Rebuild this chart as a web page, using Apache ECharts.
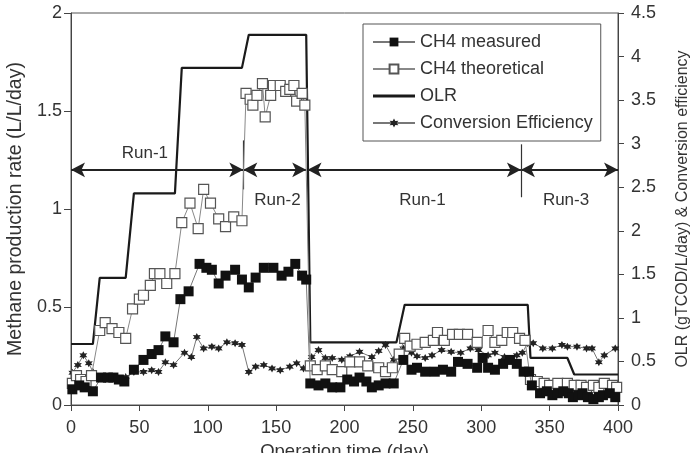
<!DOCTYPE html>
<html>
<head>
<meta charset="utf-8">
<script src="https://cdn.jsdelivr.net/npm/echarts@6/dist/echarts.min.js"></script>
<style>
  html, body { margin: 0; padding: 0; background: #fff; }
  #main { width: 696px; height: 453px; }
</style>
</head>
<body>
<div id="main"></div>
<script>
// operation days and values
var measuredDays = [1, 6, 10, 16, 22, 27, 31, 35, 39, 46, 53, 59, 64, 69, 75, 80, 86, 94, 99, 103, 108, 113, 120, 125, 130, 135, 141, 148, 154, 159, 164, 169, 172,
  175, 181, 186, 191, 197, 202, 207, 211, 216, 220, 225, 230, 236, 243, 249, 253, 259, 266, 272, 278, 283, 290, 297, 301, 305, 310, 316, 321, 326, 331, 335,
  337, 343, 348, 352, 356, 360, 364, 367, 371, 374, 378, 382, 386, 389, 394, 398];
var measuredVals = [0.08, 0.10, 0.09, 0.07, 0.14, 0.14, 0.14, 0.13, 0.12, 0.18, 0.23, 0.26, 0.28, 0.35, 0.32, 0.54, 0.58, 0.72, 0.70, 0.69, 0.62, 0.66, 0.69, 0.64, 0.60, 0.65, 0.70, 0.70, 0.66, 0.68, 0.72, 0.66, 0.64,
  0.11, 0.10, 0.11, 0.09, 0.09, 0.13, 0.12, 0.14, 0.12, 0.09, 0.10, 0.11, 0.11, 0.23, 0.18, 0.19, 0.17, 0.17, 0.18, 0.17, 0.22, 0.21, 0.19, 0.24, 0.19, 0.18, 0.21, 0.23, 0.21, 0.17, 0.17,
  0.10, 0.06, 0.07, 0.05, 0.06, 0.07, 0.06, 0.04, 0.05, 0.06, 0.04, 0.03, 0.04, 0.05, 0.06, 0.04];

var theoDays = [1, 4, 7, 11, 15, 21, 25, 30, 35, 40, 45, 50, 53, 58, 61, 65, 70, 76, 81, 87, 93, 97, 102, 108, 113, 119, 125,
  128, 131, 133, 136, 140, 142, 146, 148, 153, 157, 160, 163, 165, 169, 171,
  175, 180, 186, 191, 198, 204, 211, 217, 225, 230, 235, 240, 244, 248, 253, 259, 265, 268, 273, 279, 284, 290, 297, 305, 310, 315, 319, 323, 328, 332,
  336, 341, 346, 350, 356, 363, 368, 373, 377, 382, 386, 390, 396, 399];
var theoVals = [0.11, 0.15, 0.13, 0.12, 0.15, 0.38, 0.42, 0.39, 0.37, 0.34, 0.49, 0.54, 0.56, 0.61, 0.67, 0.67, 0.62, 0.67, 0.93, 1.03, 0.90, 1.10, 1.03, 0.95, 0.91, 0.96, 0.94,
  1.59, 1.56, 1.53, 1.58, 1.64, 1.47, 1.58, 1.63, 1.63, 1.60, 1.61, 1.63, 1.55, 1.59, 1.53,
  0.20, 0.18, 0.20, 0.18, 0.17, 0.22, 0.22, 0.20, 0.19, 0.17, 0.19, 0.26, 0.34, 0.30, 0.31, 0.32, 0.33, 0.37, 0.33, 0.36, 0.36, 0.36, 0.32, 0.38, 0.32, 0.33, 0.37, 0.37, 0.34, 0.33,
  0.13, 0.12, 0.11, 0.10, 0.11, 0.11, 0.10, 0.10, 0.09, 0.10, 0.09, 0.11, 0.10, 0.09];

var olrDays = [0, 16, 21, 40, 46, 76, 81, 125, 130, 172, 175, 238, 244, 334, 336, 363, 368, 400];
var olrVals = [0.70, 0.70, 1.46, 1.46, 2.43, 2.43, 3.87, 3.87, 4.25, 4.25, 0.72, 0.72, 1.15, 1.15, 0.54, 0.54, 0.35, 0.35];

var effDays = [1, 5, 9, 13, 16, 20, 25, 30, 35, 40, 46, 53, 59, 64, 69, 75, 83, 88, 92, 97, 103, 108, 114, 120, 125,
  130, 135, 141, 147, 153, 160, 165, 170, 176, 181, 186, 191, 198, 204, 211, 220, 225, 230, 236, 243, 249, 253, 259, 264, 271, 278, 285, 292, 298,
  305, 310, 317, 326, 330, 334, 338, 345, 352, 359, 363, 370, 377, 381, 386, 390, 398];
var effVals = [0.37, 0.46, 0.57, 0.48, 0.38, 0.30, 0.30, 0.32, 0.30, 0.32, 0.38, 0.38, 0.40, 0.38, 0.49, 0.46, 0.60, 0.55, 0.78, 0.65, 0.67, 0.65, 0.72, 0.71, 0.69,
  0.38, 0.44, 0.46, 0.42, 0.40, 0.44, 0.48, 0.42, 0.55, 0.63, 0.54, 0.54, 0.52, 0.56, 0.61, 0.55, 0.62, 0.69, 0.52, 0.65, 0.60, 0.56, 0.54, 0.57, 0.63, 0.61, 0.60, 0.65, 0.63,
  0.57, 0.60, 0.55, 0.57, 0.60, 0.71, 0.71, 0.65, 0.65, 0.69, 0.67, 0.67, 0.65, 0.65, 0.49, 0.57, 0.65];

// run periods: [start day, end day], dividers and labels (left axis units)
var runSpans = [[0, 126], [126, 172], [173, 329], [329, 400]];
var runDividers = [[126, 1.35, 1.10], [329, 1.33, 1.06]];
var runLabels = [['Run-1', 54, 1.285], ['Run-2', 151, 1.045], ['Run-1', 257, 1.045], ['Run-3', 362, 1.045]];
var arrowLevel = 1.2;

function pairs(xs, ys) {
  return xs.map(function (x, i) { return [x, ys[i]]; });
}

var font = 'Liberation Sans, Arial, sans-serif';
var starPath = 'path://M0,-10 L2.6,-4.5 8.7,-5 5.2,0 8.7,5 2.6,4.5 0,10 -2.6,4.5 -8.7,5 -5.2,0 -8.7,-5 -2.6,-4.5Z';

var myChart = echarts.init(document.getElementById('main'));
myChart.setOption({
  animation: false,
  textStyle: { fontFamily: font },
  grid: { left: 71, right: 78, top: 13, bottom: 48, containLabel: false, outerBoundsMode: 'none',
    show: true, borderColor: '#555', borderWidth: 1 },
  legend: {
    data: ['CH4 measured', 'CH4 theoretical',
      { name: 'OLR', icon: 'path://M0,0 L40,0 L40,3 L0,3Z' }, 'Conversion Efficiency'],
    orient: 'vertical',
    left: 363, top: 24,
    padding: [8, 8, 8, 9],
    itemGap: 7,
    itemWidth: 42, itemHeight: 11,
    borderColor: '#555', borderWidth: 1,
    textStyle: { fontSize: 18, color: '#333', fontFamily: font, lineHeight: 20 }
  },
  xAxis: {
    type: 'value', min: 0, max: 400, interval: 50,
    name: 'Operation time (day)', nameLocation: 'middle', nameGap: 37,
    nameTextStyle: { fontSize: 18.5, color: '#333' },
    axisLine: { onZero: false, lineStyle: { color: '#444' } },
    axisTick: { show: true, length: 6, lineStyle: { color: '#444' } },
    axisLabel: { fontSize: 18, color: '#333', margin: 14 },
    splitLine: { show: false }
  },
  yAxis: [{
    type: 'value', min: 0, max: 2, interval: 0.5,
    name: 'Methane production rate (L/L/day)', nameLocation: 'middle', nameGap: 43,
    nameTextStyle: { fontSize: 19.5, color: '#333' },
    axisLine: { show: true, lineStyle: { color: '#444' } },
    axisTick: { show: true, length: 7, lineStyle: { color: '#444' } },
    axisLabel: { fontSize: 18, color: '#333', margin: 9 },
    splitLine: { show: false }
  }, {
    type: 'value', min: 0, max: 4.5, interval: 0.5, position: 'right',
    name: 'OLR (gTCOD/L/day) & Conversion efficiency', nameLocation: 'middle', nameGap: 57, nameRotate: 90,
    nameTextStyle: { fontSize: 16, color: '#333' },
    axisLine: { show: true, lineStyle: { color: '#444' } },
    axisTick: { show: true, length: 6, lineStyle: { color: '#444' } },
    axisLabel: { fontSize: 18, color: '#333', margin: 13 },
    splitLine: { show: false }
  }],
  series: [{
    name: 'OLR', type: 'line', yAxisIndex: 1,
    data: pairs(olrDays, olrVals),
    symbol: 'none', z: 3,
    lineStyle: { color: '#1a1a1a', width: 2.2 },
    itemStyle: { color: '#1a1a1a' }
  }, {
    name: 'Conversion Efficiency', type: 'line', yAxisIndex: 1,
    data: pairs(effDays, effVals),
    symbol: starPath, symbolSize: 8, z: 4,
    lineStyle: { color: '#777', width: 1 },
    itemStyle: { color: '#222', borderWidth: 0 }
  }, {
    name: 'CH4 theoretical', type: 'line',
    data: pairs(theoDays, theoVals),
    symbol: 'rect', symbolSize: 10, z: 5,
    lineStyle: { color: '#888', width: 1 },
    itemStyle: { color: '#fff', borderColor: '#555', borderWidth: 1.2 }
  }, {
    name: 'CH4 measured', type: 'line',
    data: pairs(measuredDays, measuredVals),
    symbol: 'rect', symbolSize: 10, z: 6,
    lineStyle: { color: '#777', width: 1 },
    itemStyle: { color: '#111', borderWidth: 0 }
  }, {
    name: 'runs', type: 'line', data: [], silent: true,
    markLine: {
      silent: true, animation: false,
      symbol: ['arrow', 'arrow'], symbolSize: [11, 14],
      lineStyle: { color: '#222', width: 2, type: 'solid' },
      label: { show: false },
      data: runSpans.map(function (s) {
        return [{ coord: [s[0], arrowLevel] }, { coord: [s[1], arrowLevel] }];
      })
    },
    markPoint: {
      silent: true, symbol: 'circle', symbolSize: 1,
      itemStyle: { color: 'rgba(0,0,0,0)' },
      label: { show: true, position: 'inside', fontSize: 17, color: '#333', formatter: '{b}' },
      data: runLabels.map(function (r) { return { name: r[0], coord: [r[1], r[2]] }; })
    }
  }, {
    name: 'dividers', type: 'line', data: [], silent: true,
    markLine: {
      silent: true, animation: false,
      symbol: ['none', 'none'],
      lineStyle: { color: '#333', width: 1.2, type: 'solid' },
      label: { show: false },
      data: runDividers.map(function (d) {
        return [{ coord: [d[0], d[1]] }, { coord: [d[0], d[2]] }];
      })
    }
  }]
});
</script>
</body>
</html>
